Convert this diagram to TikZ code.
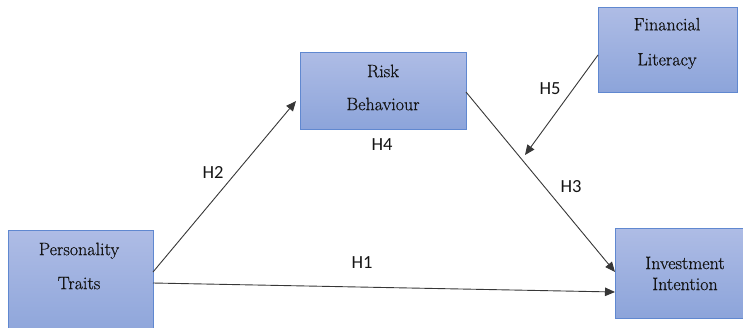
\documentclass[tikz,border=0pt]{standalone}
\usepackage{fontspec}
\newfontfamily\boxfont{Latin Modern Roman}[BoldFont={Latin Modern Roman}, BoldFeatures={FakeBold=0.6}]
\newfontfamily\lblfont{Carlito}
\usetikzlibrary{arrows.meta}
\definecolor{boxtop}{RGB}{174,188,229}
\definecolor{boxbot}{RGB}{140,164,218}
\definecolor{boxedge}{RGB}{96,136,208}
\definecolor{linecol}{RGB}{55,55,55}
\definecolor{txtcol}{RGB}{20,20,20}
\tikzset{
  box/.style={draw=boxedge, line width=1.2pt, top color=boxtop, bottom color=boxbot, inner sep=0pt, anchor=north west},
  boxtext/.style={font=\boxfont\bfseries\fontsize{18}{20}\selectfont, text=txtcol, align=center, inner sep=0pt},
  hlabel/.style={font=\lblfont\fontsize{18.5}{20}\selectfont, text=txtcol, inner sep=0pt},
  conn/.style={draw=linecol, line width=0.9pt, -{Triangle[length=10pt,width=8.5pt]}}
}
\begin{document}
\begin{tikzpicture}[x=1pt,y=-1pt]
\useasboundingbox (0,0) rectangle (743,327);
\clip (0,0) rectangle (743,327);
% boxes
\node[box, minimum width=166pt, minimum height=77pt] (rb) at (300,52) {};
\node[box, minimum width=139pt, minimum height=85pt] (fl) at (598,7) {};
\node[box, minimum width=145pt, minimum height=110pt] (pt) at (8,230) {};
\node[box, minimum width=150pt, minimum height=90pt] (ii) at (615,228) {};
% texts
\node[boxtext] (rbt) at (383,87.5) {Risk\\[13pt]Behaviour};
\node[boxtext] (flt) at (667,43.5) {Financial\\[15pt]Literacy};
\node[boxtext] (ptt) at (79,266) {Personality\\[14pt]Traits};
\node[boxtext] (iit) at (685,273.5) {Investment\\[1pt]Intention};
% connector end points
\coordinate (h2s) at (153,272);
\coordinate (h2e) at (296,101);
\coordinate (h1s) at (153,283);
\coordinate (h1e) at (615,292);
\coordinate (h3s) at (466,92);
\coordinate (h3e) at (615,272);
\coordinate (h5s) at (598,55);
\coordinate (h5e) at (525,155);
\draw[conn] (h2s) -- (h2e);
\draw[conn] (h1s) -- (h1e);
\draw[conn] (h3s) -- (h3e);
\draw[conn] (h5s) -- (h5e);
% labels
\node[hlabel] (lh2) at (213,172) {H2};
\node[hlabel] (lh4) at (382,145) {H4};
\node[hlabel] (lh1) at (362,263) {H1};
\node[hlabel] (lh3) at (571,187) {H3};
\node[hlabel] (lh5) at (550,89) {H5};
\end{tikzpicture}
\end{document}
